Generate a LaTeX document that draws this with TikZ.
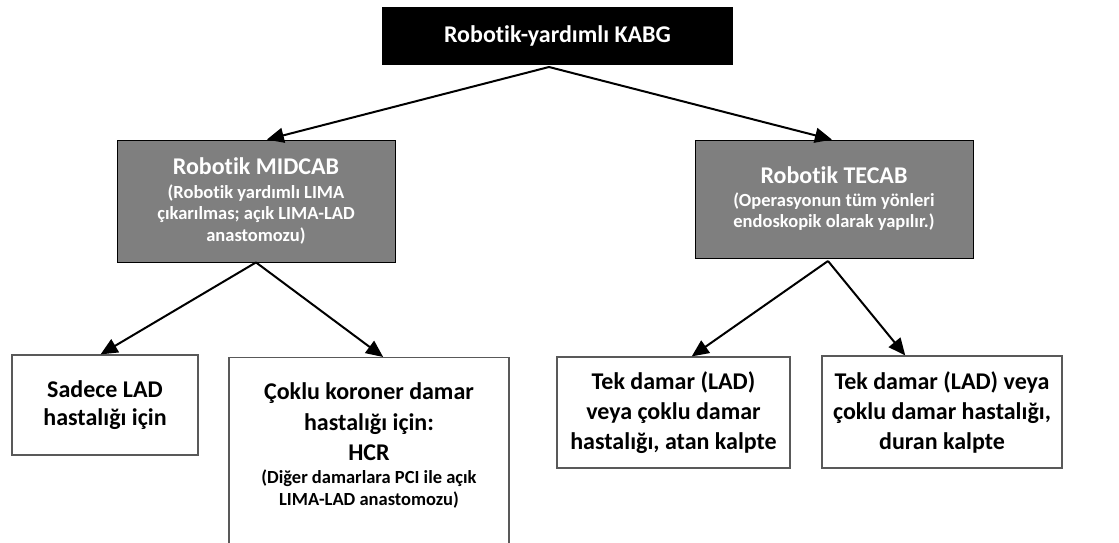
\documentclass[tikz,border=0pt]{standalone}
\usepackage{fontspec}
\setmainfont{Carlito}[Ligatures=NoCommon]
\usetikzlibrary{arrows.meta}
\definecolor{boxgray}{HTML}{7F7F7F}
\definecolor{edgegray}{HTML}{595959}
\newcommand{\titel}{\fontsize{24}{30}\selectfont}
\newcommand{\unter}{\fontsize{18.5}{21.5}\selectfont}
\tikzset{
  topbox/.style={fill=black, text=white, minimum width=351pt, minimum height=58pt,
    inner sep=0pt, font=\bfseries\titel},
  graybox/.style={draw=black, line width=0.8pt, fill=boxgray, text=white,
    align=center, inner sep=0pt, font=\bfseries\unter},
  leafbox/.style={draw=edgegray, line width=1.2pt, fill=white, align=center,
    inner sep=0pt, font=\bfseries\titel},
  pfeil/.style={line width=2pt, -{Triangle[length=17pt,width=15pt]}}
}
\begin{document}
\begin{tikzpicture}[x=1pt,y=-1pt]
\clip (0,0) rectangle (1119,543);
\node [topbox] (kabg) at (557.5,36) {Robotik-yardımlı KABG};
\node [graybox, minimum width=278pt, minimum height=122pt] (midcab) at (256,201)
  {\titel Robotik MIDCAB\\[2pt] (Robotik yardımlı LIMA\\ çıkarılmas; açık LIMA-LAD\\ anastomozu)};
\node [graybox, minimum width=278pt, minimum height=118pt] (tecab) at (834,199)
  {\titel Robotik TECAB\\[1pt] (Operasyonun tüm yönleri\\ endoskopik olarak yapılır.)};
\node [leafbox, minimum width=186pt, minimum height=100pt] (sadece) at (105,405)
  {Sadece LAD\\[-2pt] hastalığı için};
\node [leafbox, minimum width=280pt, minimum height=200pt, text depth=28pt, anchor=north] (coklu) at (369,357)
  {Çoklu koroner damar\\[1pt] hastalığı için:\\ HCR\\[-7pt] \unter (Diğer damarlara PCI ile açık\\[-8pt] \unter LIMA-LAD anastomozu)};
\node [leafbox, minimum width=233pt, minimum height=111pt] (tekdamar) at (673.5,412.5)
  {Tek damar (LAD)\\ veya çoklu damar\\ hastalığı, atan kalpte};
\node [leafbox, minimum width=240pt, minimum height=112pt] (duran) at (942,412)
  {Tek damar (LAD) veya\\ çoklu damar hastalığı,\\ duran kalpte};
\coordinate (kabgfuss) at (549,67);
\coordinate (tecabfuss) at (828,261);
\draw [pfeil] (kabgfuss) -- (midcab.80);
\draw [pfeil] (kabgfuss) -- (tecab.92);
\draw [pfeil] (midcab.south) -- (sadece.95);
\draw [pfeil] (midcab.south) -- (coklu.82);
\draw [pfeil] (tecabfuss) -- (tekdamar.72);
\draw [pfeil] (tecabfuss) -- (duran.123);
\end{tikzpicture}
\end{document}
